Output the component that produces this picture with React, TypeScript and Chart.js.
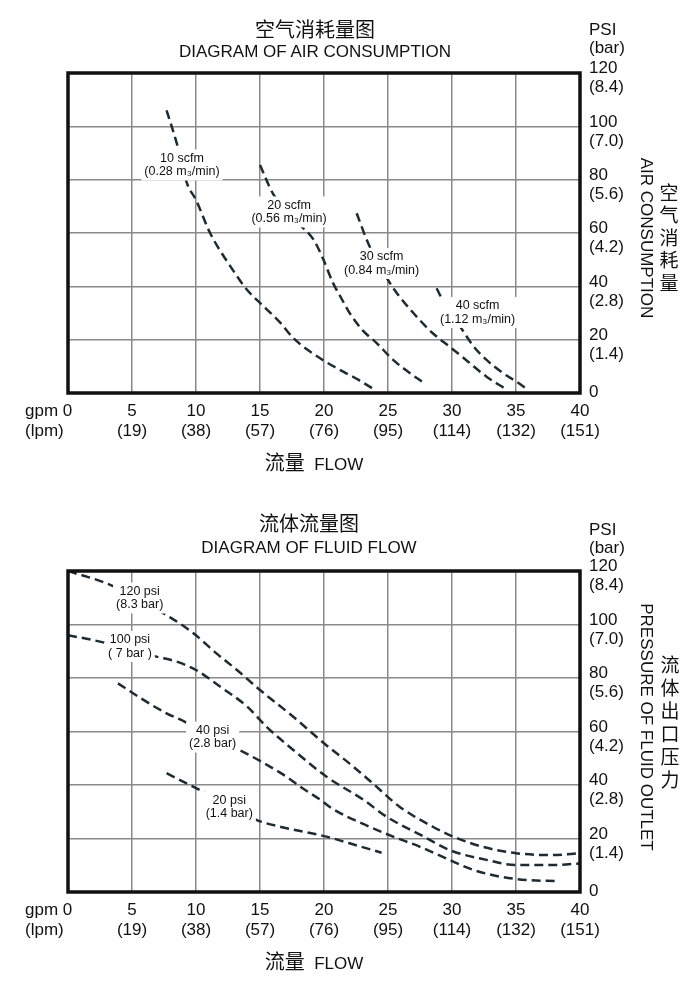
import React, { useEffect, useRef } from 'react';
import { Chart, registerables } from 'chart.js';

Chart.register(...registerables);

const FONT = '"Liberation Sans", Arial, "Noto Sans CJK SC", sans-serif';
const INK = '#111';
const CURVE = '#1d2b33';
const GRID = '#8a8a8a';

// ---- axes ----
const gpmTicks = [0, 5, 10, 15, 20, 25, 30, 35, 40];
const lpmLabels = ['(lpm)', '(19)', '(38)', '(57)', '(76)', '(95)', '(114)', '(132)', '(151)'];
const psiTicks = [0, 20, 40, 60, 80, 100, 120];
const barLabels = ['', '(1.4)', '(2.8)', '(4.2)', '(5.6)', '(7.0)', '(8.4)'];

// ---- air consumption curves (x = gpm, y = psi) ----
const air10Gpm = [7.7, 8.5, 9.3, 10.0, 11.1, 12.7, 14.0, 15.0, 16.6, 17.6, 19.9, 21.5, 22.7, 24.0];
const air10Psi = [106, 93.6, 78.6, 72.4, 60, 47.4, 38.6, 33.8, 26.3, 20.6, 12.4, 8, 4.9, 1.1];
const air20Gpm = [15.0, 16.0, 18.0, 19.2, 19.9, 20.7, 21.3, 22.0, 23.0, 24.1, 25.4, 26.7, 27.7];
const air20Psi = [85.5, 74.9, 63.6, 57.4, 50.6, 41.3, 36, 30, 23.6, 18.8, 12.4, 7.5, 4.1];
const air30Gpm = [22.55, 23.46, 25.0, 25.7, 27.0, 28.5, 29.8, 31.1, 32.7, 34.1];
const air30Psi = [67.4, 56.1, 42.4, 37.4, 29.9, 22.4, 17.4, 12.4, 6.1, 1.8];
const air40Gpm = [28.8, 29.06, 30.9, 31.7, 32.7, 34.0, 35.05, 35.96];
const air40Psi = [39.3, 36.75, 23, 17.4, 12.4, 7.4, 4.2, 1.1];

const airLabelText = [
  ['10 scfm', '(0.28 m₃/min)'],
  ['20 scfm', '(0.56 m₃/min)'],
  ['30 scfm', '(0.84 m₃/min)'],
  ['40 scfm', '(1.12 m₃/min)'],
];
const airLabelGpm = [8.9, 17.27, 24.5, 32.0];
const airLabelPsi = [85.5, 67.9, 48.6, 30.2];

// ---- fluid flow curves (x = gpm, y = psi) ----
const flow120Gpm = [0, 3.3, 8.1, 9.8, 11.6, 13.2, 15.0, 17.6, 20.0, 22.0, 23.6, 25.9, 28.5, 30.1, 32.4, 35.0, 37.9, 40];
const flow120Psi = [120, 114.8, 102.3, 96.7, 89.2, 83, 75.5, 65.5, 55.6, 48, 41.5, 31.9, 24.4, 20.7, 16.9, 14.5, 13.8, 14.5];
const flow100Gpm = [0, 2.5, 6.9, 8.5, 10.0, 11.9, 14.0, 15.5, 17.6, 20.2, 23.1, 24.9, 27.8, 29.8, 32.7, 35.0, 37.9, 40];
const flow100Psi = [96, 93.6, 88, 86.1, 83, 76.7, 69.3, 61.8, 53.1, 43.1, 34.4, 28.1, 20.7, 15.7, 12, 10.1, 10.1, 10.7];
const flow40Gpm = [3.9, 5.9, 7.7, 9.1, 13.4, 15.0, 17.1, 18.1, 19.7, 20.7, 22.8, 25.4, 27.5, 29.8, 31.7, 33.8, 35.8, 38.2];
const flow40Psi = [78, 71.8, 66.8, 63.7, 53.1, 49, 43, 39.5, 34.5, 31, 26, 20.7, 16.9, 12, 8.2, 5.7, 4.5, 4.1];
const flow20Gpm = [7.7, 10.3, 14.75, 16.56, 20.2, 22.0, 24.5];
const flow20Psi = [44.4, 38.1, 26.9, 24.4, 20.7, 18.2, 14.7];

const flowLabelText = [
  ['120 psi', '(8.3 bar)'],
  ['100 psi', '( 7 bar )'],
  ['40 psi', '(2.8 bar)'],
  ['20 psi', '(1.4 bar)'],
];
const flowLabelGpm = [5.6, 4.84, 11.3, 12.6];
const flowLabelPsi = [109.9, 91.8, 57.9, 31.8];

const toPoints = (xs: number[], ys: number[]) => xs.map((x, i) => ({ x, y: ys[i] }));

function dashed(xs: number[], ys: number[]) {
  return {
    data: toPoints(xs, ys),
    borderColor: CURVE,
    borderWidth: 2.5,
    borderDash: [9, 5],
    pointRadius: 0,
    fill: false,
    cubicInterpolationMode: 'monotone' as const,
  };
}

function makeDecor(texts: string[][], gpms: number[], psis: number[]) {
  return {
    id: 'decor',
    afterDatasetsDraw(chart: any) {
      const { ctx, chartArea, scales } = chart;
      const xs = scales.x;
      const ys = scales.y;
      ctx.save();
      ctx.font = `12.5px ${FONT}`;
      ctx.textAlign = 'center';
      ctx.textBaseline = 'middle';
      const lh = 13.5;
      texts.forEach((lines, i) => {
        const px = xs.getPixelForValue(gpms[i]);
        const py = ys.getPixelForValue(psis[i]);
        const w = Math.max(...lines.map((l) => ctx.measureText(l).width));
        const h = lh * lines.length;
        ctx.fillStyle = '#fff';
        ctx.fillRect(px - w / 2 - 3, py - h / 2 - 2, w + 6, h + 4);
        ctx.fillStyle = INK;
        lines.forEach((l, j) => ctx.fillText(l, px, py - h / 2 + lh * (j + 0.5)));
      });
      // plot frame
      ctx.strokeStyle = INK;
      ctx.lineWidth = 3.5;
      ctx.strokeRect(chartArea.left, chartArea.top, chartArea.width, chartArea.height);
      // unit label at the zero tick of x
      ctx.font = `17px ${FONT}`;
      ctx.textAlign = 'left';
      ctx.fillStyle = INK;
      const x0 = xs.getPixelForValue(gpmTicks[0]);
      const top = chartArea.bottom + 8;
      ctx.fillText('gpm 0', x0 - 43, top + 10);
      ctx.fillText(lpmLabels[0], x0 - 43, top + 10 + 20);
      // zero tick of y
      ctx.fillText(String(psiTicks[0]), chartArea.right + 9, ys.getPixelForValue(psiTicks[0]) - 1);
      ctx.restore();
    },
  };
}

function buildConfig(datasets: any[], pad: { top: number }, xHeight: number, decor: any) {
  return {
    type: 'line' as const,
    data: { datasets },
    options: {
      responsive: false,
      animation: false as const,
      layout: { padding: { left: 68, top: pad.top, right: 0, bottom: 0 } },
      plugins: { legend: { display: false }, tooltip: { enabled: false }, title: { display: false } },
      scales: {
        x: {
          type: 'linear' as const,
          position: 'bottom' as const,
          min: 0,
          max: 40,
          afterBuildTicks: (s: any) => { s.ticks = gpmTicks.map((v) => ({ value: v })); },
          afterFit: (s: any) => { s.height = xHeight; },
          grid: { color: GRID, lineWidth: 1.5, drawTicks: false },
          border: { display: false },
          ticks: {
            autoSkip: false,
            maxRotation: 0,
            padding: 8,
            color: INK,
            font: { family: FONT, size: 17, lineHeight: '20px' },
            callback: (v: number) => {
              const i = gpmTicks.indexOf(v);
              return v === 0 ? '' : [String(v), lpmLabels[i]];
            },
          },
        },
        y: {
          type: 'linear' as const,
          position: 'right' as const,
          min: 0,
          max: 120,
          afterBuildTicks: (s: any) => { s.ticks = psiTicks.map((v) => ({ value: v })); },
          afterFit: (s: any) => { s.width = 112; },
          grid: { color: GRID, lineWidth: 1.5, drawTicks: false },
          border: { display: false },
          ticks: {
            autoSkip: false,
            padding: 9,
            labelOffset: 5,
            color: INK,
            font: { family: FONT, size: 17, lineHeight: '19px' },
            callback: (v: number) => {
              const i = psiTicks.indexOf(v);
              return v === 0 ? '' : [String(v), barLabels[i]];
            },
          },
        },
      },
    },
    plugins: [decor],
  };
}

function ChartCanvas({ top, height, config }: { top: number; height: number; config: () => any }) {
  const ref = useRef<HTMLCanvasElement | null>(null);
  useEffect(() => {
    if (!ref.current) return;
    const chart = new Chart(ref.current, config());
    return () => chart.destroy();
  }, []);
  return (
    <div style={{ position: 'absolute', left: 0, top, width: 692, height }}>
      <canvas ref={ref} width={692} height={height} style={{ display: 'block', width: 692, height }} />
    </div>
  );
}

const Text = ({ cx, cy, size, children, lh }: any) => (
  <div
    style={{
      position: 'absolute',
      left: cx - 250,
      width: 500,
      top: cy - (lh || size * 1.2) / 2,
      lineHeight: `${lh || size * 1.2}px`,
      fontSize: size,
      textAlign: 'center',
      whiteSpace: 'nowrap',
    }}
  >
    {children}
  </div>
);

const Rotated = ({ cx, cy, size, children }: any) => (
  <div
    style={{
      position: 'absolute',
      left: cx,
      top: cy,
      fontSize: size,
      lineHeight: `${size * 1.2}px`,
      whiteSpace: 'nowrap',
      transform: 'translate(-50%, -50%) rotate(90deg)',
    }}
  >
    {children}
  </div>
);

const Stacked = ({ cx, cy, size, pitch, text }: any) => {
  const chars = Array.from(text as string);
  return (
    <div
      style={{
        position: 'absolute',
        left: cx - 15,
        width: 30,
        top: cy - (chars.length * pitch) / 2,
        fontSize: size,
        lineHeight: `${pitch}px`,
        textAlign: 'center',
      }}
    >
      {chars.map((c, i) => (
        <div key={i}>{c}</div>
      ))}
    </div>
  );
};

const Units = ({ top }: { top: number }) => (
  <div style={{ position: 'absolute', left: 589, top, fontSize: 17, lineHeight: '18px' }}>
    <div>PSI</div>
    <div>(bar)</div>
  </div>
);

export default function App() {
  const airConfig = () =>
    buildConfig(
      [
        dashed(air10Gpm, air10Psi),
        dashed(air20Gpm, air20Psi),
        dashed(air30Gpm, air30Psi),
        dashed(air40Gpm, air40Psi),
      ],
      { top: 73 },
      97,
      makeDecor(airLabelText, airLabelGpm, airLabelPsi)
    );
  const flowConfig = () =>
    buildConfig(
      [
        dashed(flow120Gpm, flow120Psi),
        dashed(flow100Gpm, flow100Psi),
        dashed(flow40Gpm, flow40Psi),
        dashed(flow20Gpm, flow20Psi),
      ],
      { top: 81 },
      94,
      makeDecor(flowLabelText, flowLabelGpm, flowLabelPsi)
    );

  return (
    <div
      style={{
        position: 'absolute',
        left: 0,
        top: 0,
        width: 692,
        height: 986,
        background: '#fff',
        color: INK,
        fontFamily: FONT,
        overflow: 'hidden',
      }}
    >
      <ChartCanvas top={0} height={490} config={airConfig} />
      <ChartCanvas top={490} height={496} config={flowConfig} />

      <Text cx={315} cy={30} size={20}>空气消耗量图</Text>
      <Text cx={315} cy={52} size={17}>DIAGRAM OF AIR CONSUMPTION</Text>
      <Units top={21} />
      <Rotated cx={646} cy={238} size={17}>AIR CONSUMPTION</Rotated>
      <Stacked cx={669} cy={239} size={19} pitch={22.5} text="空气消耗量" />
      <Text cx={314} cy={463} size={17}>
        <span style={{ fontSize: 20 }}>流量</span>&nbsp; FLOW
      </Text>

      <Text cx={309} cy={524} size={20}>流体流量图</Text>
      <Text cx={309} cy={548} size={17}>DIAGRAM OF FLUID FLOW</Text>
      <Units top={521} />
      <Rotated cx={646} cy={727} size={17}>PRESSURE OF FLUID OUTLET</Rotated>
      <Stacked cx={670} cy={723} size={19} pitch={23} text="流体出口压力" />
      <Text cx={314} cy={962} size={17}>
        <span style={{ fontSize: 20 }}>流量</span>&nbsp; FLOW
      </Text>
    </div>
  );
}
